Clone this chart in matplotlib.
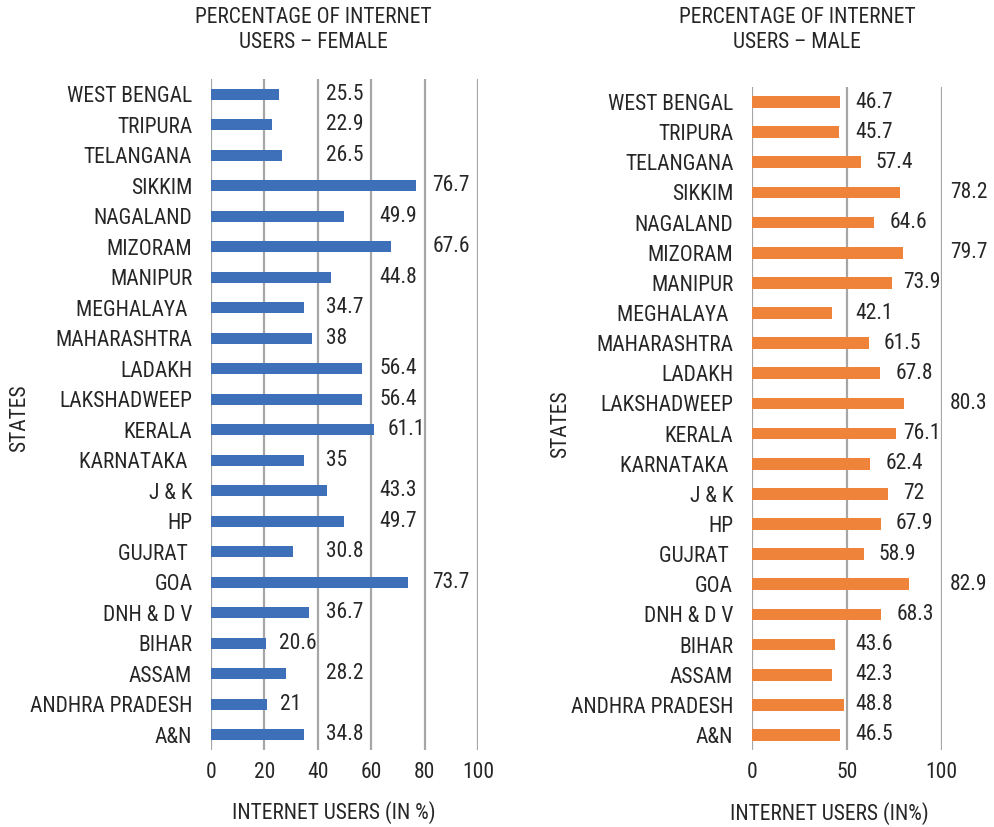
import numpy as np
import matplotlib
matplotlib.use("Agg")
import matplotlib.pyplot as plt

plt.rcParams['font.family'] = ['Roboto Condensed', 'DejaVu Sans']

# data, top row of the chart first
states = ["WEST BENGAL", "TRIPURA", "TELANGANA", "SIKKIM", "NAGALAND", "MIZORAM",
          "MANIPUR", "MEGHALAYA ", "MAHARASHTRA", "LADAKH", "LAKSHADWEEP", "KERALA",
          "KARNATAKA ", "J & K", "HP", "GUJRAT ", "GOA", "DNH & D V", "BIHAR",
          "ASSAM", "ANDHRA PRADESH", "A&N"]
female = [25.5, 22.9, 26.5, 76.7, 49.9, 67.6, 44.8, 34.7, 38, 56.4, 56.4, 61.1,
          35, 43.3, 49.7, 30.8, 73.7, 36.7, 20.6, 28.2, 21, 34.8]
male = [46.7, 45.7, 57.4, 78.2, 64.6, 79.7, 73.9, 42.1, 61.5, 67.8, 80.3, 76.1,
        62.4, 72, 67.9, 58.9, 82.9, 68.3, 43.6, 42.3, 48.8, 46.5]
female_ticks = [0, 20, 40, 60, 80, 100]
male_ticks = [0, 50, 100]

W, H = 994, 827
TXT = '#262626'
GRID = '#a6a6a6'
FS = 15.5


def px(x0, y0, x1, y1):
    # pixel box (top-left origin) -> figure fraction rect
    return [x0 / W, 1 - y1 / H, (x1 - x0) / W, (y1 - y0) / H]


def label_x(v, ticks, pad_bar, pad_grid, thr, width):
    # where the data labels sit in the reference: just after the next gridline
    # when it is close, otherwise after the bar (kept clear of the gridline)
    above = [t for t in ticks if t > v]
    if not above:
        return v + pad_bar
    g = above[0]
    if g - v < thr:
        return g + pad_grid
    return min(v + pad_bar, g - width)


def panel(ax, vals, ticks, color, hbar, lab_cfg):
    y = np.arange(len(states))
    ax.barh(y, vals, height=hbar, color=color, zorder=3)
    ax.set_ylim(len(states) - 0.5, -0.5)
    ax.set_xlim(0, 100)
    for t in ticks:
        ax.axvline(t, color=GRID, lw=1.6, zorder=1)
    for s in ax.spines.values():
        s.set_visible(False)
    ax.set_yticks(y)
    ax.set_yticklabels(states, fontsize=FS, color=TXT)
    ax.set_xticks(ticks)
    ax.set_xticklabels([str(t) for t in ticks], fontsize=FS, color=TXT)
    ax.tick_params(axis='y', length=0, pad=13.5)
    ax.tick_params(axis='x', length=0, pad=9)
    for yi, v in zip(y, vals):
        ax.text(label_x(v, ticks, *lab_cfg), yi, f"{v:g}", fontsize=FS,
                color=TXT, va='center', ha='left', zorder=4)


fig = plt.figure(figsize=(W / 100, H / 100), dpi=100)

ax1 = fig.add_axes(px(211, 79, 478, 750))
panel(ax1, female, female_ticks, '#3E70BA', 0.37, (5, 3, 18, 12))

ax2 = fig.add_axes(px(752, 87, 941.5, 750))
panel(ax2, male, male_ticks, '#F0833A', 0.39, (8, 4.5, 22.5, 20))

# titles and axis labels
fig.text(313 / W, 1 - 30 / H, "PERCENTAGE OF INTERNET\nUSERS \u2013 FEMALE", fontsize=FS,
         color=TXT, ha='center', va='center', linespacing=1.3)
fig.text(797 / W, 1 - 30 / H, "PERCENTAGE OF INTERNET\nUSERS \u2013 MALE", fontsize=FS,
         color=TXT, ha='center', va='center', linespacing=1.3)
fig.text(20 / W, 1 - 418 / H, "STATES", fontsize=FS, color=TXT, rotation=90,
         ha='center', va='center')
fig.text(561 / W, 1 - 424 / H, "STATES", fontsize=FS, color=TXT, rotation=90,
         ha='center', va='center')
fig.text(334 / W, 1 - 813 / H, "INTERNET USERS (IN %)", fontsize=FS, color=TXT,
         ha='center', va='center')
fig.text(829 / W, 1 - 814 / H, "INTERNET USERS (IN%)", fontsize=FS, color=TXT,
         ha='center', va='center')

fig.savefig("out.png", dpi=100)
